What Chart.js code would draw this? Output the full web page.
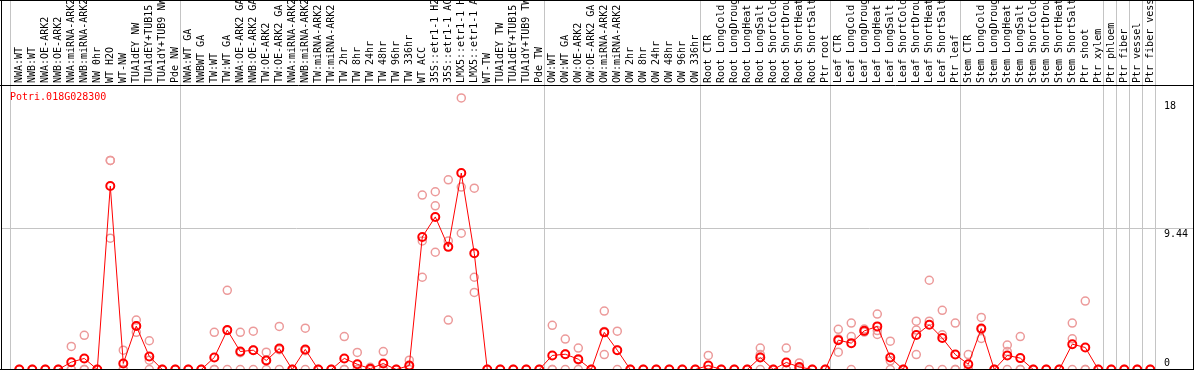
<!DOCTYPE html>
<html>
<head>
<meta charset="utf-8">
<script src="https://cdn.jsdelivr.net/npm/chart.js@4.4.1/dist/chart.umd.min.js"></script>
<style>
html,body{margin:0;padding:0;background:#fff;overflow:hidden}
#wrap{position:relative;width:1194px;height:370px}
canvas{display:block}
</style>
</head>
<body>
<div id="wrap"><canvas id="c" width="1194" height="370"></canvas></div>
<script>
const geneName = "Potri.018G028300";

const categories = [
  "NWA:WT","NWB:WT","NWA:OE-ARK2","NWB:OE-ARK2","NWA:miRNA-ARK2","NWB:miRNA-ARK2","NW 0hr","WT H2O","WT-NW","TUA1dEY NW","TUA1dEY+TUB15 NW","TUA1dY+TUB9 NW","Pde NW",
  "NWA:WT GA","NWBWT GA","TW:WT","TW:WT GA","NWA:OE-ARK2 GA","NWB:OE-ARK2 GA","TW:OE-ARK2","TW:OE-ARK2 GA","NWA:miRNA-ARK2 GA","NWB:miRNA-ARK2 GA","TW:miRNA-ARK2","TW:miRNA-ARK2 GA","TW 2hr","TW 8hr","TW 24hr","TW 48hr","TW 96hr","TW 336hr","WT ACC","35S::etr1-1 H2O","35S::etr1-1 ACC","LMX5::etr1-1 H2O","LMX5::etr1-1 ACC","WT-TW","TUA1dEY TW","TUA1dEY+TUB15 TW","TUA1dY+TUB9 TW","Pde TW",
  "OW:WT","OW:WT GA","OW:OE-ARK2","OW:OE-ARK2 GA","OW:miRNA-ARK2","OW:miRNA-ARK2 GA","OW 2hr","OW 8hr","OW 24hr","OW 48hr","OW 96hr","OW 336hr",
  "Root CTR","Root LongCold","Root LongDrought","Root LongHeat","Root LongSalt","Root ShortCold","Root ShortDrought","Root ShortHeat","Root ShortSalt","Ptr root",
  "Leaf CTR","Leaf LongCold","Leaf LongDrought","Leaf LongHeat","Leaf LongSalt","Leaf ShortCold","Leaf ShortDrought","Leaf ShortHeat","Leaf ShortSalt","Ptr leaf",
  "Stem CTR","Stem LongCold","Stem LongDrought","Stem LongHeat","Stem LongSalt","Stem ShortCold","Stem ShortDrought","Stem ShortHeat","Stem ShortSalt","Ptr shoot","Ptr xylem",
  "Ptr phloem","Ptr fiber","Ptr vessel","Ptr fiber vessel"
];

// index of the last category of each group
const groupEnds = [12, 40, 52, 62, 72, 83, 84, 85, 86, 87];

const meanValues = [
  0,0,0,0,0.49,0.74,0,12.25,0.4,2.9,0.87,0,0,
  0,0,0.8,2.63,1.2,1.29,0.6,1.4,0,1.34,0,0,0.74,0.35,0.05,0.4,0,0.27,8.85,10.19,8.19,13.12,7.76,0,0,0,0,0,
  0.94,1.02,0.69,0,2.48,1.29,0,0,0,0,0,0,
  0.27,0,0,0,0.8,0,0.47,0.17,0,0,
  1.96,1.76,2.58,2.88,0.8,0,2.3,2.99,2.1,1.0,
  0.35,2.74,0,0.94,0.76,0,0,0,1.69,1.47,0,
  0,0,0,0
];

const rep1 = [
  0,0,0,0,1.54,2.28,0,13.96,1.29,3.3,1.92,0,0,
  0,0,2.48,5.29,2.48,2.56,1.16,2.88,0,2.76,0,0,2.2,1.14,0.15,1.2,0,0.62,11.65,11.87,12.67,18.14,12.11,0,0,0,0,0,
  2.95,2.03,1.43,0,3.9,2.56,0,0,0,0,0,0,
  0.94,0,0,0,1.43,0,1.43,0.44,0,0,
  2.68,3.1,2.7,3.7,1.89,0,3.23,5.96,3.95,3.1,
  1.0,3.48,0,1.63,2.2,0,0,0,3.1,4.57,0,
  0,0,0,0
];

const rep2 = [
  0,0,0,0,0,0,0,13.96,0,2.48,0.62,0,0,
  0,0,0,2.6,1.12,1.3,0.64,1.32,0,1.26,0,0,0,0,0,0,0,0.2,8.59,10.93,8.59,12.18,6.16,0,0,0,0,0,
  0,1.03,0.64,0,2.54,1.3,0,0,0,0,0,0,
  0,0,0,0,1.0,0,0,0.07,0,0,
  2.04,2.2,2.5,2.6,0.58,0,2.63,3.23,2.32,0,
  0,2.67,0,1.2,0,0,0,0,2.05,0,0,
  0,0,0,0
];

const rep3 = [
  0,0,0,0,0,0,0,8.77,0,2.92,0,0,0,
  0,0,0,0,0,0,0,0,0,0,0,0,0,0,0,0,0,0,6.16,7.83,3.3,9.1,5.15,0,0,0,0,0,
  0,0,0,0,1.0,0,0,0,0,0,0,0,
  0,0,0,0,0,0,0,0,0,0,
  1.16,0,2.55,2.34,0,0,1.0,0,0,0,
  0,2.07,0,0,0,0,0,0,0,0,0,
  0,0,0,0
];

const yTickValues = [0, 9.44, 18];
const yGridValue = 9.44;

// ----- presentation -----
const FONT = '"DejaVu Sans Mono", "Liberation Mono", monospace';
const RED = '#ff0000';
const PINK = '#ec9a9a';
const GRAY = '#c4c4c4';
const CLEAR = 'rgba(0,0,0,0)';
const XMIN = -0.715, XMAX = 87.44;
const YMAX = 19;

const separators = [XMIN].concat(groupEnds.map(i => i + 0.4));
const sepSet = new Set(separators);
const topTicks = categories.map((_, i) => i).concat(separators).sort((a, b) => a - b);

const toPts = arr => arr.map((v, i) => ({x: i, y: v}));

const repStyle = {
  type: 'line', showLine: false, pointRadius: 4, pointBorderWidth: 1.5,
  pointBorderColor: PINK, pointBackgroundColor: CLEAR, borderColor: PINK
};

const noPadV = s => { s.paddingTop = 0; s.paddingBottom = 0; };
const noPadH = s => { s.paddingLeft = 0; s.paddingRight = 0; };

const framePlugin = {
  id: 'frame',
  afterDraw(chart) {
    const {ctx, chartArea, width, height} = chart;
    ctx.save();
    ctx.strokeStyle = '#000';
    ctx.lineWidth = 1;
    ctx.beginPath();
    ctx.moveTo(1.5, 0); ctx.lineTo(1.5, height);
    ctx.moveTo(width - 0.5, 0); ctx.lineTo(width - 0.5, height);
    ctx.moveTo(0, 0.5); ctx.lineTo(width, 0.5);
    ctx.moveTo(0, Math.round(chartArea.top) + 0.5); ctx.lineTo(width, Math.round(chartArea.top) + 0.5);
    ctx.moveTo(0, height - 0.5); ctx.lineTo(width, height - 0.5);
    ctx.stroke();
    ctx.fillStyle = RED;
    ctx.font = '10px ' + FONT;
    ctx.textBaseline = 'alphabetic';
    ctx.textAlign = 'left';
    ctx.fillText(geneName, chartArea.left, chartArea.top + 15);
    ctx.restore();
  }
};

new Chart(document.getElementById('c'), {
  type: 'line',
  data: {
    datasets: [
      {
        data: toPts(meanValues), borderColor: RED, borderWidth: 1,
        pointRadius: 4, pointBorderWidth: 2, pointBorderColor: RED,
        pointBackgroundColor: CLEAR, tension: 0, xAxisID: 'x', yAxisID: 'y'
      },
      Object.assign({data: toPts(rep1), xAxisID: 'x', yAxisID: 'y'}, repStyle),
      Object.assign({data: toPts(rep2), xAxisID: 'x', yAxisID: 'y'}, repStyle),
      Object.assign({data: toPts(rep3), xAxisID: 'x', yAxisID: 'y'}, repStyle)
    ]
  },
  options: {
    responsive: false,
    devicePixelRatio: 1,
    animation: false,
    events: [],
    layout: {autoPadding: false, padding: {left: 1, right: 0, top: 0, bottom: 0.5}},
    plugins: {legend: {display: false}, tooltip: {enabled: false}, title: {display: false}},
    scales: {
      x: {type: 'linear', display: false, min: XMIN, max: XMAX},
      xTop: {
        type: 'linear', position: 'top', min: XMIN, max: XMAX,
        afterBuildTicks: s => { s.ticks = topTicks.map(v => ({value: v})); },
        afterFit: s => { s.height = 85; noPadH(s); },
        grid: {
          color: c => (c.tick && sepSet.has(c.tick.value)) ? GRAY : CLEAR,
          tickColor: c => (c.tick && sepSet.has(c.tick.value)) ? GRAY : CLEAR,
          drawTicks: true, tickLength: 85, lineWidth: 1
        },
        border: {display: false},
        ticks: {
          autoSkip: false, maxRotation: 90, minRotation: 90, padding: -83, labelOffset: 12,
          font: {family: FONT, size: 10}, color: '#000',
          callback: v => (Number.isInteger(v) && categories[v] !== undefined) ? categories[v] : ''
        }
      },
      y: {
        type: 'linear', position: 'right', min: 0, max: YMAX,
        afterBuildTicks: s => { s.ticks = yTickValues.map(v => ({value: v})); },
        afterFit: s => { s.width = 38; noPadV(s); },
        grid: {
          color: c => (c.tick && c.tick.value === yGridValue) ? GRAY : CLEAR,
          tickColor: c => (c.tick && c.tick.value === yGridValue) ? GRAY : CLEAR,
          drawTicks: true, tickLength: 38, lineWidth: 1
        },
        border: {display: false},
        ticks: {
          padding: -30, font: {family: FONT, size: 10, lineHeight: 1.2}, color: '#000',
          callback: (v, i) => i === 0 ? [String(v), ''] : ['', String(v)]
        }
      },
      yL: {
        type: 'linear', position: 'left', min: 0, max: YMAX,
        afterBuildTicks: s => { s.ticks = yTickValues.map(v => ({value: v})); },
        afterFit: s => { s.width = 9; noPadV(s); },
        grid: {
          color: c => (c.tick && c.tick.value === yGridValue) ? GRAY : CLEAR,
          tickColor: c => (c.tick && c.tick.value === yGridValue) ? GRAY : CLEAR,
          drawOnChartArea: false, drawTicks: true, tickLength: 9, lineWidth: 1
        },
        border: {display: false},
        ticks: {display: false}
      }
    }
  },
  plugins: [framePlugin]
});
</script>
</body>
</html>
